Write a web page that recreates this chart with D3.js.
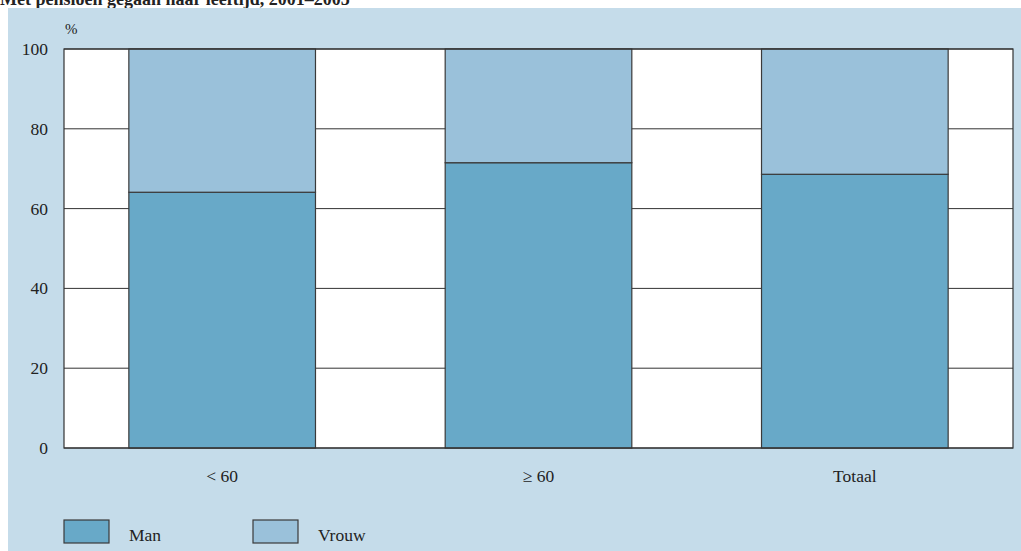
<!DOCTYPE html>
<html>
<head>
<meta charset="utf-8">
<script src="https://cdn.jsdelivr.net/npm/d3@7"></script>
<style>
  body { margin: 0; background: #fff; }
  svg { display: block; font-family: "Liberation Serif", "DejaVu Serif", serif; }
</style>
</head>
<body>
<div id="chart"></div>
<script>
// data
var categories = ["< 60", "\u2265 60", "Totaal"];
var man = [64.1, 71.5, 68.6];
var vrouw = [35.9, 28.5, 31.4];
var seriesNames = ["Man", "Vrouw"];
var yTicks = [0, 20, 40, 60, 80, 100];

var width = 1021, height = 551;
var margin = {top: 49, right: 8, bottom: 103, left: 64};

var colors = d3.scaleOrdinal(seriesNames, ["#68a9c8", "#9ac1da"]);

var svg = d3.select("#chart").append("svg")
    .attr("width", width)
    .attr("height", height);

// title (cut off at the top edge, as in the source)
svg.append("text")
    .attr("x", 0).attr("y", 5)
    .attr("font-size", 18)
    .attr("font-weight", "bold")
    .attr("fill", "#222")
    .text("Met pensioen gegaan naar leeftijd, 2001\u20132005");

// panel background
svg.append("rect")
    .attr("x", 8).attr("y", 8)
    .attr("width", width - 8).attr("height", height - 8)
    .attr("fill", "#c5dcea");

var x = d3.scaleBand()
    .domain(categories)
    .range([margin.left, width - margin.right])
    .paddingInner(0.41)
    .paddingOuter(0.205);

var y = d3.scaleLinear()
    .domain([0, 100])
    .range([height - margin.bottom, margin.top]);

// plot area
svg.append("rect")
    .attr("x", margin.left).attr("y", margin.top)
    .attr("width", width - margin.left - margin.right)
    .attr("height", height - margin.top - margin.bottom)
    .attr("fill", "#fff");

// gridlines
svg.append("g")
    .selectAll("line")
    .data(yTicks)
    .join("line")
    .attr("x1", margin.left).attr("x2", width - margin.right)
    .attr("y1", d => y(d)).attr("y2", d => y(d))
    .attr("stroke", "#333").attr("stroke-width", 1);

// stacked data
var rows = categories.map((c, i) => ({cat: c, Man: man[i], Vrouw: vrouw[i]}));
var stacked = d3.stack().keys(seriesNames)(rows);

svg.append("g")
    .selectAll("g")
    .data(stacked)
    .join("g")
    .attr("fill", d => colors(d.key))
    .selectAll("rect")
    .data(d => d)
    .join("rect")
    .attr("x", d => x(d.data.cat))
    .attr("width", x.bandwidth())
    .attr("y", d => y(d[1]))
    .attr("height", d => y(d[0]) - y(d[1]))
    .attr("stroke", "#3a3a3a")
    .attr("stroke-width", 1.2);

// plot border
svg.append("rect")
    .attr("x", margin.left).attr("y", margin.top)
    .attr("width", width - margin.left - margin.right)
    .attr("height", height - margin.top - margin.bottom)
    .attr("fill", "none")
    .attr("stroke", "#333").attr("stroke-width", 1.2);

// y axis labels
svg.append("g")
    .selectAll("text")
    .data(yTicks)
    .join("text")
    .attr("x", 48)
    .attr("y", d => y(d) + 6)
    .attr("text-anchor", "end")
    .attr("font-size", 17.5)
    .attr("fill", "#222")
    .text(d => d);

svg.append("text")
    .attr("x", 65).attr("y", 34)
    .attr("font-size", 15)
    .attr("fill", "#222")
    .text("%");

// x axis labels
svg.append("g")
    .selectAll("text")
    .data(categories)
    .join("text")
    .attr("x", d => x(d) + x.bandwidth() / 2)
    .attr("y", 482)
    .attr("text-anchor", "middle")
    .attr("font-size", 17.5)
    .attr("fill", "#222")
    .text(d => d);

// legend
var legend = svg.selectAll(".legend")
    .data(seriesNames)
    .join("g")
    .attr("class", "legend")
    .attr("transform", (d, i) => `translate(${64 + i * 189}, 520)`);

legend.append("rect")
    .attr("width", 45).attr("height", 23)
    .attr("fill", d => colors(d))
    .attr("stroke", "#3a3a3a").attr("stroke-width", 1.2);

legend.append("text")
    .attr("x", 65).attr("y", 21)
    .attr("font-size", 17.5)
    .attr("fill", "#222")
    .text(d => d);
</script>
</body>
</html>
